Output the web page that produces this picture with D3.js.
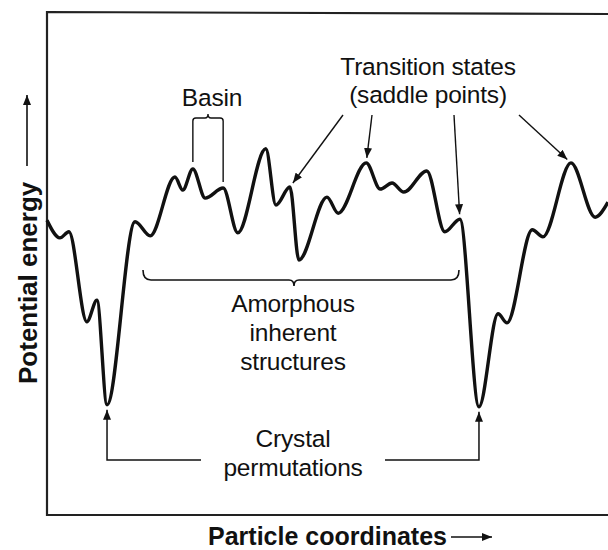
<!DOCTYPE html>
<html>
<head>
<meta charset="utf-8">
<script src="https://cdn.jsdelivr.net/npm/d3@7"></script>
<style>
  html, body { margin: 0; padding: 0; background: #fff; }
  svg { display: block; }
  text { font-family: 'Liberation Sans', Arial, Helvetica, sans-serif; fill: #111; }
  .label { font-size: 24.5px; letter-spacing: -0.2px; }
  .axis-title { font-size: 25px; font-weight: bold; }
</style>
</head>
<body>
<script>
// particle coordinate (0-100 across the frame) and potential energy (0-100) at each turning point
const coord = [0, 2.3, 3.9, 7.1, 8.9, 10.7, 15.7, 18.4, 22.8, 24.2, 26.0, 28.2, 31.4, 34.0,
  39.0, 40.8, 43.3, 44.9, 49.9, 51.9, 56.9, 59.4, 61.5, 63.6, 67.7, 70.9, 73.6,
  77.0, 80.4, 82.0, 86.5, 88.4, 93.4, 97.7, 100];
const energy = [58.6, 55.1, 56.3, 38.4, 42.7, 21.9, 58.3, 55.5, 67.2, 64.6, 68.8, 63.0, 65.0, 56.1,
  72.8, 61.6, 65.2, 50.7, 63.2, 60.0, 70.0, 64.8, 66.0, 64.2, 68.4, 56.3, 58.8,
  21.5, 40.0, 38.2, 56.7, 55.3, 70.0, 59.2, 62.2];

// which points the annotations refer to
const saddleIdx = [16, 20, 26, 32];
const basinIdx = [10, 12];
const crystalIdx = [5, 27];

const saddleText = ['Transition states', '(saddle points)'];
const amorphousText = ['Amorphous', 'inherent', 'structures'];
const crystalText = ['Crystal', 'permutations'];
const basinText = 'Basin';
const xTitle = 'Particle coordinates';
const yTitle = 'Potential energy';

const w = 608;
const h = 550;

const xScale = d3.scaleLinear().domain([0, 100]).range([47, 608]);
const yScale = d3.scaleLinear().domain([0, 100]).range([515, 12]);

const svg = d3.select('body')
  .append('svg')
  .attr('width', w)
  .attr('height', h);

svg.append('defs')
  .append('marker')
  .attr('id', 'head')
  .attr('markerUnits', 'userSpaceOnUse')
  .attr('markerWidth', 10)
  .attr('markerHeight', 8)
  .attr('refX', 10)
  .attr('refY', 4)
  .attr('orient', 'auto')
  .append('path')
  .attr('d', 'M0,0L10,4L0,8Z')
  .attr('fill', '#111');

// frame (right side runs off the picture)
const x0 = xScale(0), yTop = yScale(100), yBot = yScale(0);
svg.append('path')
  .attr('d', `M${w + 5},${yTop + 2}L${x0},${yTop}L${x0},${yBot}L${w + 5},${yBot}`)
  .attr('fill', 'none')
  .attr('stroke', '#222')
  .attr('stroke-width', 2.2);

// energy landscape
const pts = coord.map((c, i) => [c, energy[i]]);
const line = d3.line()
  .x((d) => xScale(d[0]))
  .y((d) => yScale(d[1]))
  .curve(d3.curveMonotoneX);

svg.append('path')
  .datum(pts)
  .attr('d', line)
  .attr('fill', 'none')
  .attr('stroke', '#111')
  .attr('stroke-width', 3.4)
  .attr('stroke-linejoin', 'round');

// transition state labels and arrows
svg.selectAll('text.saddle')
  .data(saddleText)
  .enter()
  .append('text')
  .attr('class', 'label')
  .attr('x', 428)
  .attr('y', (d, i) => 75 + i * 28)
  .attr('text-anchor', 'middle')
  .text((d) => d);

const tails = [[343, 115], [372, 115], [454, 115], [519, 115]];
saddleIdx.forEach((k, i) => {
  const px = xScale(coord[k]);
  const py = yScale(energy[k]);
  const dx = px - tails[i][0], dy = py - tails[i][1];
  const len = Math.hypot(dx, dy);
  svg.append('line')
    .attr('x1', tails[i][0])
    .attr('y1', tails[i][1])
    .attr('x2', px - dx / len * 5)
    .attr('y2', py - dy / len * 5)
    .attr('stroke', '#111')
    .attr('stroke-width', 1.4)
    .attr('marker-end', 'url(#head)');
});

// basin bracket
const bx1 = xScale(coord[basinIdx[0]]);
const bx2 = xScale(coord[basinIdx[1]]);
const bmid = (bx1 + bx2) / 2;
svg.append('path')
  .attr('d', `M${bx1},${yScale(energy[basinIdx[0]]) - 7}L${bx1},121Q${bx1},118 ${bx1 + 3},118` +
    `L${bmid - 3},118Q${bmid},118 ${bmid},114Q${bmid},118 ${bmid + 3},118` +
    `L${bx2 - 3},118Q${bx2},118 ${bx2},121L${bx2},${yScale(energy[basinIdx[1]]) - 6}`)
  .attr('fill', 'none')
  .attr('stroke', '#111')
  .attr('stroke-width', 1.4);

svg.append('text')
  .attr('class', 'label')
  .attr('x', bmid + 4)
  .attr('y', 106)
  .attr('text-anchor', 'middle')
  .text(basinText);

// amorphous brace
const ax1 = 143, ax2 = 459, am = 294, ay = 280;
svg.append('path')
  .attr('d', `M${ax1},${ay - 10}Q${ax1},${ay} ${ax1 + 8},${ay}L${am - 5},${ay}` +
    `Q${am},${ay} ${am},${ay + 6}Q${am},${ay} ${am + 5},${ay}L${ax2 - 8},${ay}Q${ax2},${ay} ${ax2},${ay - 10}`)
  .attr('fill', 'none')
  .attr('stroke', '#111')
  .attr('stroke-width', 1.6);

svg.selectAll('text.amorph')
  .data(amorphousText)
  .enter()
  .append('text')
  .attr('class', 'label')
  .attr('x', 293)
  .attr('y', (d, i) => 312 + i * 29)
  .attr('text-anchor', 'middle')
  .text((d) => d);

// crystal permutations
svg.selectAll('text.crystal')
  .data(crystalText)
  .enter()
  .append('text')
  .attr('class', 'label')
  .attr('x', 293)
  .attr('y', (d, i) => 447 + i * 29)
  .attr('text-anchor', 'middle')
  .text((d) => d);

const cy = 460;
crystalIdx.forEach((k, i) => {
  const px = xScale(coord[k]);
  const inner = i === 0 ? 201 : 385;
  svg.append('path')
    .attr('d', `M${inner},${cy}L${px},${cy}L${px},${yScale(energy[k]) + 5}`)
    .attr('fill', 'none')
    .attr('stroke', '#111')
    .attr('stroke-width', 1.5)
    .attr('marker-end', 'url(#head)');
});

// axis titles with arrows
svg.append('text')
  .attr('class', 'axis-title')
  .attr('x', 208)
  .attr('y', 545)
  .text(xTitle);
svg.append('line')
  .attr('x1', 451).attr('y1', 537)
  .attr('x2', 492).attr('y2', 537)
  .attr('stroke', '#111')
  .attr('stroke-width', 1.6)
  .attr('marker-end', 'url(#head)');

svg.append('text')
  .attr('class', 'axis-title')
  .attr('font-size', '26px')
  .style('font-size', '26px')
  .attr('transform', 'translate(37,384) rotate(-90)')
  .text(yTitle);
svg.append('line')
  .attr('x1', 27).attr('y1', 166)
  .attr('x2', 27).attr('y2', 95)
  .attr('stroke', '#111')
  .attr('stroke-width', 1.6)
  .attr('marker-end', 'url(#head)');
</script>
</body>
</html>
